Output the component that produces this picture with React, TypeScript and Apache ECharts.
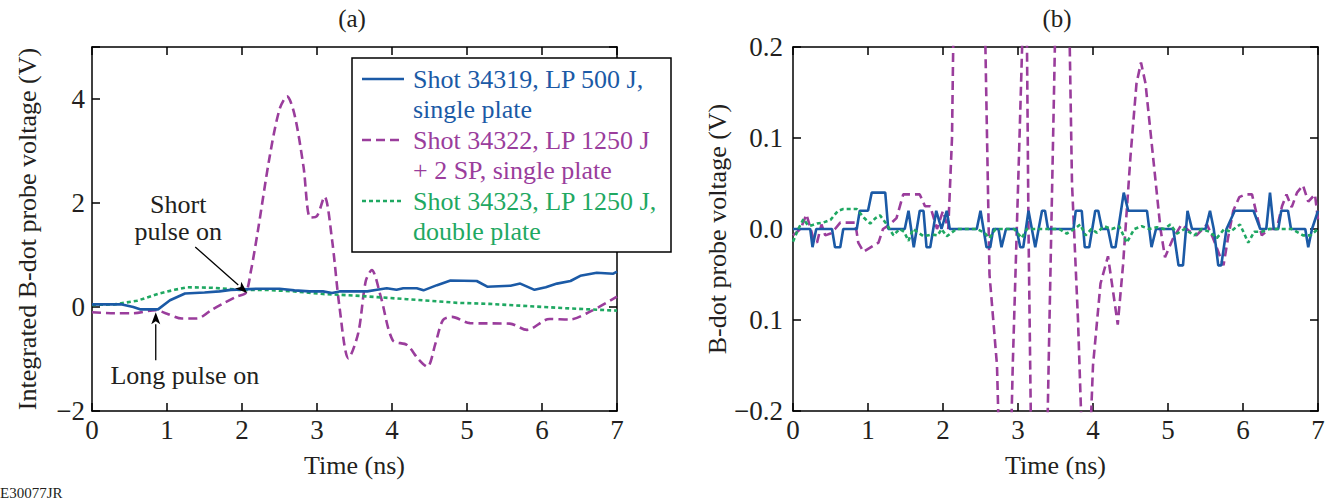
import { useEffect, useRef } from "react";
import * as echarts from "echarts";

// ---------- Data ----------
const timeTicks = [0, 1, 2, 3, 4, 5, 6, 7];

// Panel (a): integrated B-dot probe voltage (V)
const blueA_t = [0, 0.4, 0.55, 0.64, 0.88, 1.04, 1.24, 1.5, 1.7, 1.85, 2.2, 2.5, 2.7, 2.9, 3.08, 3.2, 3.3, 3.67, 3.8, 3.93, 4.06, 4.15, 4.33, 4.42, 4.6, 4.78, 5.13, 5.27, 5.58, 5.71, 5.9, 6.05, 6.2, 6.38, 6.51, 6.73, 6.95, 7.0];
const blueA_v = [0.05, 0.05, 0.0, -0.045, -0.045, 0.13, 0.26, 0.28, 0.3, 0.33, 0.35, 0.35, 0.32, 0.3, 0.3, 0.27, 0.3, 0.3, 0.33, 0.36, 0.33, 0.36, 0.36, 0.32, 0.42, 0.51, 0.5, 0.39, 0.41, 0.45, 0.33, 0.38, 0.45, 0.5, 0.6, 0.66, 0.64, 0.68];

const purpleA_t = [0, 0.3, 0.55, 0.85, 1.0, 1.2, 1.4, 1.6, 1.75, 1.93, 2.05, 2.12, 2.21, 2.37, 2.5, 2.6, 2.7, 2.82, 2.91, 3.0, 3.1, 3.2, 3.3, 3.42, 3.55, 3.65, 3.73, 3.85, 4.01, 4.2, 4.35, 4.47, 4.58, 4.68, 4.8, 5.04, 5.57, 5.8, 6.1, 6.37, 6.64, 7.0];
const purpleA_v = [-0.1, -0.12, -0.12, -0.06, -0.13, -0.22, -0.22, -0.05, 0.07, 0.2, 0.27, 0.7, 1.45, 2.9, 3.8, 4.05, 3.7, 2.7, 1.72, 1.75, 2.12, 1.3, 0.0, -0.99, -0.5, 0.5, 0.71, 0.2, -0.64, -0.73, -1.0, -1.15, -0.7, -0.25, -0.19, -0.31, -0.32, -0.44, -0.23, -0.24, -0.09, 0.2];

const greenA_t = [0, 0.3, 0.6, 0.9, 1.1, 1.27, 1.6, 1.97, 2.3, 2.7, 3.08, 3.5, 3.8, 4.2, 4.6, 4.87, 5.3, 5.9, 6.4, 7.0];
const greenA_v = [0.04, 0.05, 0.12, 0.26, 0.33, 0.38, 0.37, 0.33, 0.33, 0.3, 0.25, 0.22, 0.19, 0.15, 0.11, 0.08, 0.06, 0.01, -0.03, -0.07];

// Panel (b): B-dot probe voltage (V)
const blueB_t = [0, 0.23, 0.26, 0.31, 0.52, 0.56, 0.63, 0.67, 0.85, 0.89, 1.0, 1.05, 1.23, 1.27, 1.49, 1.54, 1.61, 1.69, 1.74, 1.78, 1.83, 1.91, 1.98, 2.05, 2.09, 2.45, 2.5, 2.58, 2.63, 2.67, 2.74, 2.78, 2.84, 2.98, 3.03, 3.07, 3.14, 3.23, 3.32, 3.36, 3.4, 3.74, 3.77, 3.85, 3.89, 3.95, 4.03, 4.07, 4.12, 4.2, 4.25, 4.3, 4.41, 4.47, 4.72, 4.78, 4.84, 5.07, 5.14, 5.2, 5.26, 5.32, 5.5, 5.56, 5.61, 5.67, 5.71, 5.78, 5.89, 6.14, 6.23, 6.31, 6.36, 6.41, 6.47, 6.51, 6.6, 6.64, 6.83, 6.87, 6.92, 7.0];
const blueB_v = [0, 0, -0.02, 0, 0, -0.02, -0.02, 0, 0, 0.02, 0.02, 0.04, 0.04, 0, 0, 0.02, -0.02, 0.02, 0.02, -0.02, -0.02, 0.02, 0, 0.02, 0, 0, 0.02, -0.02, -0.02, 0, 0, -0.02, 0, 0, -0.02, -0.02, 0.02, -0.02, 0.02, 0.02, 0, 0, 0.02, 0.02, -0.02, -0.02, 0.02, 0.02, 0, 0, -0.02, -0.02, 0.04, 0.02, 0.02, -0.02, 0, 0, -0.04, -0.04, 0.02, 0, 0, 0.02, 0, -0.04, -0.04, 0, 0.02, 0.02, 0, 0, 0.04, 0, 0, 0.02, 0.02, 0, 0, -0.02, 0, 0.02];

const purpleB_t = [0, 0.1, 0.18, 0.27, 0.32, 0.38, 0.43, 0.5, 0.56, 0.63, 0.83, 0.87, 0.94, 1.14, 1.2, 1.29, 1.38, 1.47, 1.69, 1.76, 1.83, 1.92, 2.0, 2.07, 2.12, 2.2, 2.4, 2.5, 2.62, 2.72, 2.8, 2.86, 2.93, 3.02, 3.09, 3.11, 3.14, 3.2, 3.35, 3.42, 3.48, 3.55, 3.65, 3.72, 3.8, 3.88, 3.93, 4.0, 4.1, 4.2, 4.27, 4.33, 4.4, 4.5, 4.58, 4.64, 4.7, 4.8, 4.9, 4.96, 5.07, 5.18, 5.28, 5.38, 5.52, 5.6, 5.74, 5.8, 5.87, 5.95, 6.03, 6.12, 6.2, 6.25, 6.35, 6.45, 6.52, 6.58, 6.65, 6.72, 6.8, 6.87, 6.96, 7.0];
const purpleB_v = [-0.007, 0.0, 0.016, -0.01, -0.015, 0.005, -0.007, -0.005, 0, 0.007, 0.007, -0.015, -0.025, -0.015, 0, 0.005, 0.012, 0.038, 0.038, 0.025, 0.025, 0.0, 0.02, 0.0, 0.1, 0.6, 0.8, 0.5, -0.05, -0.15, -0.4, -0.4, -0.15, 0.1, 0.3, 0.3, 0.0, -0.4, -0.4, -0.1, 0.15, 0.45, 0.4, 0.05, -0.1, -0.3, -0.3, -0.15, -0.06, -0.03, -0.07, -0.105, -0.04, 0.08, 0.16, 0.183, 0.16, 0.08, 0.0, -0.031, -0.01, 0.005, -0.002, -0.007, 0.005, -0.01, -0.04, -0.01, 0.02, 0.035, 0.038, 0.038, 0.01, -0.007, 0, 0, 0.025, 0.038, 0.024, 0.04, 0.048, 0.03, 0.038, 0.01];

const greenB_t = [0, 0.07, 0.14, 0.2, 0.25, 0.32, 0.4, 0.5, 0.6, 0.67, 0.85, 0.95, 1.03, 1.1, 1.16, 1.25, 1.34, 1.42, 1.48, 1.54, 1.6, 1.67, 1.74, 1.85, 1.93, 1.98, 2.05, 2.18, 2.3, 2.45, 2.55, 2.62, 2.7, 2.8, 2.95, 3.05, 3.12, 3.25, 3.4, 3.55, 3.65, 3.75, 3.83, 3.9, 3.98, 4.05, 4.15, 4.25, 4.35, 4.45, 4.55, 4.65, 4.75, 4.85, 4.95, 5.03, 5.12, 5.22, 5.35, 5.45, 5.55, 5.65, 5.75, 5.83, 5.96, 6.07, 6.15, 6.25, 6.35, 6.5, 6.65, 6.8, 6.9, 7.0];
const greenB_v = [-0.014, 0.0, 0.011, 0.004, 0.004, 0.006, 0.007, 0.01, 0.02, 0.022, 0.022, 0.012, 0.006, 0.012, 0.015, 0.005, -0.007, 0.0, -0.003, -0.013, 0.0, -0.004, -0.008, -0.006, -0.007, 0.0, -0.008, 0.0, 0.0, 0.0, -0.004, -0.01, 0.0, 0.0, 0.0, -0.01, 0.0, 0.0, 0.0, 0.0, -0.005, 0.0, 0.005, -0.007, 0.0, -0.004, 0.003, 0.0, 0.003, -0.015, 0.0, 0.003, 0.0, 0.002, 0.0, 0.005, -0.005, 0.0, -0.007, 0.0, -0.003, -0.01, 0.0, -0.003, 0.005, -0.015, -0.003, -0.003, 0.0, 0.0, 0.0, -0.007, -0.007, 0.0];

const legendLabels = [
  "Shot 34319, LP 500 J,\nsingle plate",
  "Shot 34322, LP 1250 J\n+ 2 SP, single plate",
  "Shot 34323, LP 1250 J,\ndouble plate",
];

// ---------- Styles ----------
const FONT = "'Liberation Serif', 'Times New Roman', serif";
const TXT = "#231f20";
const BLUE = "#1b5aa6";
const PURPLE = "#9a3d9c";
const GREEN = "#1fa862";

const pairs = (t: number[], v: number[]) => t.map((x, i) => [x, v[i]]);

export default function App() {
  const ref = useRef<HTMLDivElement>(null);
  useEffect(() => {
    const chart = echarts.init(ref.current!, null, { renderer: "svg" });

    const axisLine = { show: true, onZero: false, lineStyle: { color: "#000", width: 1.5 } };
    const tick = { show: true, inside: true, length: 8, lineStyle: { color: "#000", width: 1.5 } };
    const lbl = { color: TXT, fontFamily: FONT, fontSize: 27 };
    const nameStyle = { color: TXT, fontFamily: FONT, fontSize: 26 };

    const xAxisFor = (gi: number, pos: "bottom" | "top") => ({
      type: "value",
      gridIndex: gi,
      position: pos,
      min: timeTicks[0],
      max: timeTicks[timeTicks.length - 1],
      interval: 1,
      axisLine,
      axisTick: tick,
      splitLine: { show: false },
      axisLabel: pos === "bottom" ? { ...lbl, margin: 5, formatter: (v: number) => String(v) } : { show: false },
      name: pos === "bottom" ? "Time (ns)" : "",
      nameLocation: "middle",
      nameGap: 41,
      nameTextStyle: nameStyle,
    });

    const fmtA = (v: number) => {
      if (v > 4.5) return "";
      return v < 0 ? "\u2212" + Math.abs(v) : String(v);
    };
    const fmtB = (v: number) => {
      const r = Math.round(v * 10) / 10;
      if (r <= -0.15) return "\u2212" + Math.abs(r).toFixed(1);
      return Math.abs(r).toFixed(1);
    };

    const yAxisFor = (gi: number, pos: "left" | "right", min: number, max: number, interval: number, fmt: any, name: string, gap: number, margin: number) => ({
      type: "value",
      gridIndex: gi,
      position: pos,
      min,
      max,
      interval,
      axisLine,
      axisTick: tick,
      splitLine: { show: false },
      axisLabel: pos === "left" ? { ...lbl, margin, formatter: fmt } : { show: false },
      name: pos === "left" ? name : "",
      nameLocation: "middle",
      nameGap: gap,
      nameTextStyle: nameStyle,
    });

    const lineSeries = (name: string, data: number[][], xi: number, yi: number, color: string, type: any, smooth: any, z: number) => ({
      type: "line",
      name,
      data,
      xAxisIndex: xi,
      yAxisIndex: yi,
      showSymbol: false,
      symbol: "none",
      clip: true,
      smooth,
      z,
      lineStyle: { color, width: 2.6, type },
    });

    chart.setOption({
      animation: false,
      backgroundColor: "#fff",
      grid: [
        { left: 92, top: 47, width: 525, height: 364 },
        { left: 793, top: 47, width: 525, height: 364 },
      ],
      xAxis: [xAxisFor(0, "bottom"), xAxisFor(0, "top"), xAxisFor(1, "bottom"), xAxisFor(1, "top")],
      yAxis: [
        yAxisFor(0, "left", -2, 5, 2, fmtA, "Integrated B-dot probe voltage (V)", 52, 7),
        yAxisFor(0, "right", -2, 5, 2, fmtA, "", 0, 0),
        yAxisFor(1, "left", -0.2, 0.2, 0.1, fmtB, "B-dot probe voltage (V)", 62, 10),
        yAxisFor(1, "right", -0.2, 0.2, 0.1, fmtB, "", 0, 0),
      ],
      series: [
        lineSeries("Shot 34322 (a)", pairs(purpleA_t, purpleA_v), 0, 0, PURPLE, [9, 5], 0.3, 2),
        lineSeries("Shot 34323 (a)", pairs(greenA_t, greenA_v), 0, 0, GREEN, [4, 3], false, 3),
        lineSeries("Shot 34319 (a)", pairs(blueA_t, blueA_v), 0, 0, BLUE, "solid", false, 4),
        lineSeries("Shot 34322 (b)", pairs(purpleB_t, purpleB_v), 2, 2, PURPLE, [9, 5], false, 2),
        lineSeries("Shot 34319 (b)", pairs(blueB_t, blueB_v), 2, 2, BLUE, "solid", false, 3),
        lineSeries("Shot 34323 (b)", pairs(greenB_t, greenB_v), 2, 2, GREEN, [4, 3], false, 4),
      ],
    });

    // Annotation arrows anchored on data coordinates
    const shortTip = chart.convertToPixel({ gridIndex: 0 }, [2.07, 0.27]) as number[];
    const longTip = chart.convertToPixel({ gridIndex: 0 }, [0.85, -0.1]) as number[];

    const arrow = (x1: number, y1: number, x2: number, y2: number) => {
      const dx = x2 - x1, dy = y2 - y1;
      const L = Math.hypot(dx, dy);
      const ux = dx / L, uy = dy / L;
      const hl = 12, hw = 4.5;
      const bx = x2 - ux * hl, by = y2 - uy * hl;
      return [
        { type: "line", z: 50, shape: { x1, y1, x2: bx, y2: by }, style: { stroke: "#000", lineWidth: 1.3 } },
        {
          type: "polygon",
          z: 50,
          shape: { points: [[x2, y2], [bx - uy * hw, by + ux * hw], [bx + ux * 3, by + uy * 3], [bx + uy * hw, by - ux * hw]] },
          style: { fill: "#000" },
        },
      ];
    };

    const textEl = (text: string, x: number, y: number, color: string, size: number, align = "left", va = "top", lh = 30) => ({
      type: "text",
      z: 60,
      x,
      y,
      style: { text, fill: color, fontFamily: FONT, fontSize: size, align, verticalAlign: va, lineHeight: lh },
    });

    const lgX = 352, lgY = 58;
    const legendColors = [BLUE, PURPLE, GREEN];
    const legendDash: any[] = [null, [9, 5], [4, 3]];
    const legendEls: any[] = [
      { type: "rect", z: 40, shape: { x: lgX, y: lgY, width: 319, height: 194 }, style: { fill: "#fff", stroke: "#000", lineWidth: 1.5 } },
    ];
    legendLabels.forEach((label, i) => {
      const cy = lgY + 21 + i * 61;
      legendEls.push({
        type: "line",
        z: 45,
        shape: { x1: lgX + 10, y1: cy, x2: lgX + 52, y2: cy },
        style: { stroke: legendColors[i], lineWidth: 2.6, lineDash: legendDash[i] || undefined },
      });
      legendEls.push(textEl(label, lgX + 61, cy - 15, legendColors[i], 26));
    });

    chart.setOption({
      graphic: [
        textEl("(a)", 352, 18, TXT, 25, "center", "middle"),
        textEl("(b)", 1057, 18, TXT, 25, "center", "middle"),
        textEl("E30077JR", 0, 493, TXT, 15, "left", "middle"),
        ...legendEls,
        ...arrow(shortTip[0] - 52, shortTip[1] - 46, shortTip[0], shortTip[1]),
        textEl("Short\npulse on", shortTip[0] - 69, shortTip[1] - 102, TXT, 26, "center", "top", 27),
        ...arrow(longTip[0], longTip[1] + 48, longTip[0], longTip[1]),
        textEl("Long pulse on", longTip[0] + 29, longTip[1] + 63, TXT, 26, "center", "middle"),
      ],
    });

    return () => chart.dispose();
  }, []);
  return <div ref={ref} style={{ position: "absolute", left: 0, top: 0, width: 1332, height: 502, background: "#fff" }} />;
}
